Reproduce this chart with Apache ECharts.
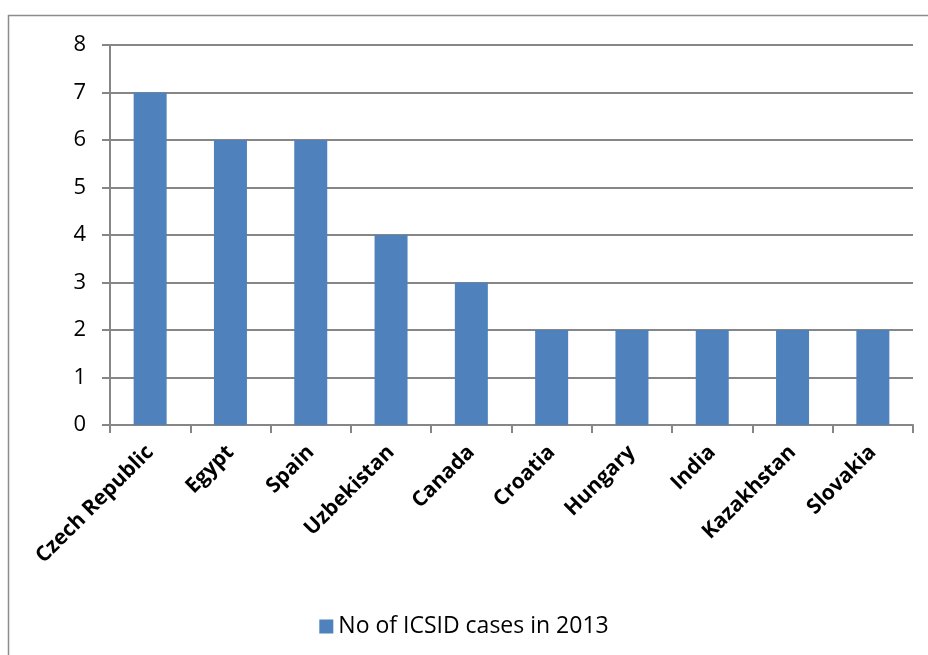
<!DOCTYPE html>
<html>
<head>
<meta charset="utf-8">
<script src="https://cdn.jsdelivr.net/npm/echarts@6/dist/echarts.min.js"></script>
<style>
  html, body { margin: 0; padding: 0; background: #fff; }
  #chart { width: 928px; height: 655px; }
</style>
</head>
<body>
<div id="chart"></div>
<script>
var countries = ['Czech Republic', 'Egypt', 'Spain', 'Uzbekistan', 'Canada',
  'Croatia', 'Hungary', 'India', 'Kazakhstan', 'Slovakia'];
var cases = [7, 6, 6, 4, 3, 2, 2, 2, 2, 2];
var seriesName = 'No of ICSID cases in 2013';

var chart = echarts.init(document.getElementById('chart'));

var option = {
  backgroundColor: '#fff',
  animation: false,
  textStyle: { fontFamily: 'Open Sans' },
  graphic: [{
    type: 'rect',
    shape: { x: 8.5, y: 15.5, width: 940, height: 660 },
    style: { fill: 'none', stroke: '#8c8c8c', lineWidth: 1.5 },
    silent: true
  }],
  grid: { left: 110, right: 15, top: 45, bottom: 230, containLabel: false },
  legend: {
    bottom: 12,
    left: 'center',
    itemWidth: 14,
    itemHeight: 14,
    itemGap: 8,
    icon: 'rect',
    textStyle: { fontSize: 23, color: '#000', fontFamily: 'Open Sans' },
    data: [seriesName]
  },
  xAxis: {
    type: 'category',
    data: countries,
    axisLine: { lineStyle: { color: '#868686', width: 2 } },
    axisTick: { show: true, length: 8, lineStyle: { color: '#868686', width: 2 } },
    axisLabel: {
      rotate: 45,
      margin: 24,
      interval: 0,
      color: '#000',
      fontSize: 21,
      fontWeight: 'bold',
      fontFamily: 'Open Sans'
    }
  },
  yAxis: {
    type: 'value',
    min: 0,
    max: 8,
    interval: 1,
    axisLine: { show: true, lineStyle: { color: '#868686', width: 2 } },
    axisTick: { show: true, length: 8, lineStyle: { color: '#868686', width: 2 } },
    axisLabel: { color: '#000', fontSize: 22, margin: 24 },
    splitLine: { lineStyle: { color: '#868686', width: 2 } }
  },
  series: [{
    name: seriesName,
    type: 'bar',
    data: cases,
    barWidth: 33,
    itemStyle: { color: '#4F81BD' }
  }]
};

chart.setOption(option);
</script>
</body>
</html>
